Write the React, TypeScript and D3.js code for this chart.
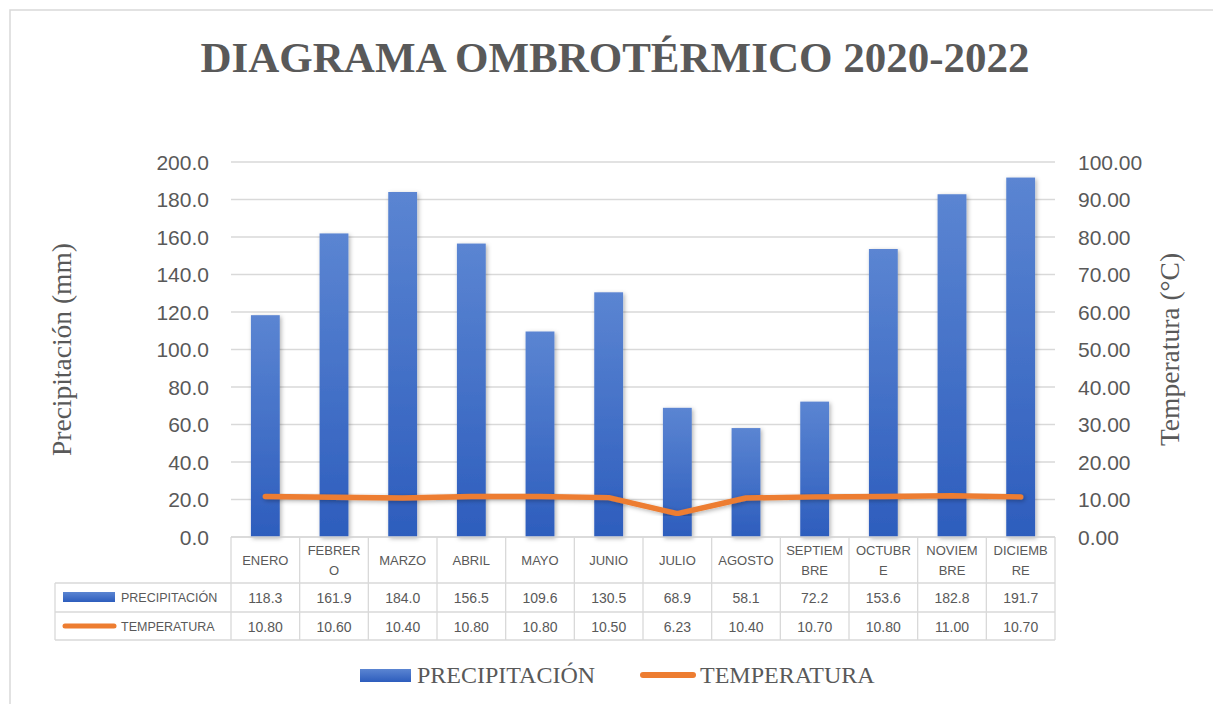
import React from "react";
import * as d3 from "d3";

const months = ["ENERO","FEBRERO","MARZO","ABRIL","MAYO","JUNIO","JULIO","AGOSTO","SEPTIEMBRE","OCTUBRE","NOVIEMBRE","DICIEMBRE"];
const monthLines = [["ENERO"],["FEBRER","O"],["MARZO"],["ABRIL"],["MAYO"],["JUNIO"],["JULIO"],["AGOSTO"],["SEPTIEM","BRE"],["OCTUBR","E"],["NOVIEM","BRE"],["DICIEMB","RE"]];
const precipitation = [118.3,161.9,184.0,156.5,109.6,130.5,68.9,58.1,72.2,153.6,182.8,191.7];
const temperature = [10.80,10.60,10.40,10.80,10.80,10.50,6.23,10.40,10.70,10.80,11.00,10.70];
const leftTicks = [0,20,40,60,80,100,120,140,160,180,200];
const rightTicks = [0,10,20,30,40,50,60,70,80,90,100];

const W = 1213, H = 704;
const PL = 231, PR = 1055, PT = 162, PB = 537;
const TXT = "#595959";
const GRID = "#d9d9d9";
const SANS = "'Liberation Sans', Arial, sans-serif";
const SERIF = "'Liberation Serif', 'Times New Roman', serif";

export default function App() {
  const x = d3.scaleBand<string>().domain(months).range([PL, PR]).padding(0);
  const yL = d3.scaleLinear().domain([0, 200]).range([PB, PT]);
  const yR = d3.scaleLinear().domain([0, 100]).range([PB, PT]);
  const bw = x.bandwidth() * 0.42;
  const cx = (m: string) => (x(m) as number) + x.bandwidth() / 2;
  const line = d3.line<number>().x((_, i) => cx(months[i])).y((d) => yR(d));

  const rowTop = PB, row1 = 583, row2 = 612, rowBot = 640, tableLeft = 55;

  return (
    <svg width={W} height={H} style={{ position: "absolute", left: 0, top: 0 }} xmlns="http://www.w3.org/2000/svg">
      <defs>
        <linearGradient id="barGrad" x1="0" y1="0" x2="0" y2="1">
          <stop offset="0%" stopColor="#5B85D2" />
          <stop offset="100%" stopColor="#2D5DBD" />
        </linearGradient>
        <filter id="shadow" x="-30%" y="-10%" width="160%" height="120%">
          <feDropShadow dx="1.5" dy="1.5" stdDeviation="2" floodColor="#000" floodOpacity="0.3" />
        </filter>
      </defs>
      <rect x={0} y={0} width={W} height={H} fill="#fff" />
      <rect x={10} y={10} width={W + 20} height={H + 20} fill="#fff" stroke={GRID} strokeWidth={1.5} />

      <text x={615} y={72} textAnchor="middle" fontFamily={SERIF} fontWeight="bold" fontSize={43} fill={TXT}>
        DIAGRAMA OMBROTÉRMICO 2020-2022
      </text>

      {/* gridlines */}
      {leftTicks.map((t) => (
        <line key={"g" + t} x1={PL} x2={PR} y1={yL(t)} y2={yL(t)} stroke={GRID} strokeWidth={1.3} />
      ))}
      {leftTicks.map((t) => (
        <text key={"l" + t} x={209} y={yL(t) + 7.5} textAnchor="end" fontFamily={SANS} fontSize={21} fill={TXT}>
          {t.toFixed(1)}
        </text>
      ))}
      {rightTicks.map((t) => (
        <text key={"r" + t} x={1078} y={yR(t) + 7.5} textAnchor="start" fontFamily={SANS} fontSize={21} fill={TXT}>
          {t.toFixed(2)}
        </text>
      ))}

      <text transform={`translate(71,${(PT + PB) / 2}) rotate(-90)`} textAnchor="middle" fontFamily={SERIF} fontSize={27.5} fill={TXT}>
        Precipitación (mm)
      </text>
      <text transform={`translate(1179,${(PT + PB) / 2}) rotate(-90)`} textAnchor="middle" fontFamily={SERIF} fontSize={27.5} fill={TXT}>
        Temperatura (°C)
      </text>

      {/* bars */}
      {precipitation.map((v, i) => (
        <rect key={"b" + i} x={cx(months[i]) - bw / 2} y={yL(v)} width={bw} height={yL(0) - yL(v)} fill="url(#barGrad)" filter="url(#shadow)" />
      ))}

      {/* temperature line */}
      <path d={line(temperature) || ""} fill="none" stroke="#ED7D31" strokeWidth={5.5} strokeLinejoin="round" strokeLinecap="round" filter="url(#shadow)" />

      {/* data table */}
      <g stroke={GRID} strokeWidth={1.3} fill="none">
        <line x1={PL} x2={PR} y1={rowTop} y2={rowTop} />
        <line x1={tableLeft} x2={PR} y1={row1} y2={row1} />
        <line x1={tableLeft} x2={PR} y1={row2} y2={row2} />
        <line x1={tableLeft} x2={PR} y1={rowBot} y2={rowBot} />
        <line x1={tableLeft} x2={tableLeft} y1={row1} y2={rowBot} />
        {months.map((m) => (
          <line key={"v" + m} x1={x(m) as number} x2={x(m) as number} y1={rowTop} y2={rowBot} />
        ))}
        <line x1={PR} x2={PR} y1={rowTop} y2={rowBot} />
      </g>
      {monthLines.map((ls, i) => (
        <g key={"h" + i}>
          {ls.length === 1 ? (
            <text x={cx(months[i])} y={565} textAnchor="middle" fontFamily={SANS} fontSize={13} fill={TXT}>{ls[0]}</text>
          ) : (
            ls.map((s, j) => (
              <text key={j} x={cx(months[i])} y={555 + j * 20} textAnchor="middle" fontFamily={SANS} fontSize={13} fill={TXT}>{s}</text>
            ))
          )}
        </g>
      ))}
      {precipitation.map((v, i) => (
        <text key={"pv" + i} x={cx(months[i])} y={603} textAnchor="middle" fontFamily={SANS} fontSize={14} fill={TXT}>{v.toFixed(1)}</text>
      ))}
      {temperature.map((v, i) => (
        <text key={"tv" + i} x={cx(months[i])} y={632} textAnchor="middle" fontFamily={SANS} fontSize={14} fill={TXT}>{v.toFixed(2)}</text>
      ))}
      <rect x={63} y={592} width={52} height={10} fill="url(#barGrad)" />
      <text x={121} y={602} fontFamily={SANS} fontSize={12.5} fill={TXT}>PRECIPITACIÓN</text>
      <line x1={65} x2={114} y1={626} y2={626} stroke="#ED7D31" strokeWidth={5} strokeLinecap="round" />
      <text x={121} y={631} fontFamily={SANS} fontSize={12.5} fill={TXT}>TEMPERATURA</text>

      {/* legend */}
      <rect x={360} y={669} width={51} height={13} fill="url(#barGrad)" />
      <text x={417} y={683} fontFamily={SERIF} fontSize={24} fill={TXT}>PRECIPITACIÓN</text>
      <line x1={643} x2={693} y1={675} y2={675} stroke="#ED7D31" strokeWidth={6} strokeLinecap="round" />
      <text x={700} y={683} fontFamily={SERIF} fontSize={24} fill={TXT}>TEMPERATURA</text>
    </svg>
  );
}
